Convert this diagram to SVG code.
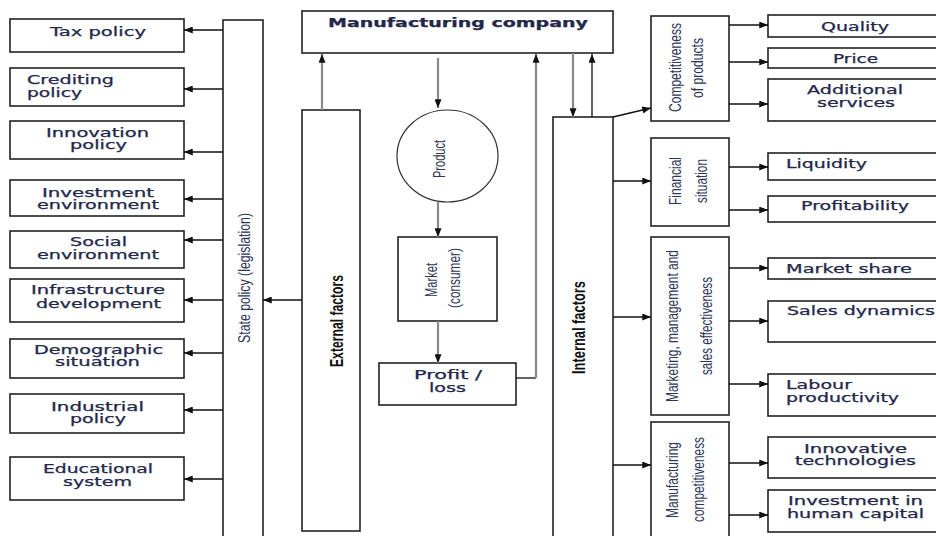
<svg xmlns="http://www.w3.org/2000/svg" width="936" height="536" viewBox="0 0 936 536">
<style>
.box{fill:#fff;stroke:#222;stroke-width:1.6}
.t{font-family:"DejaVu Sans",Verdana,sans-serif;font-size:11.5px;fill:#23284a;text-anchor:middle;stroke:#23284a;stroke-width:0.25}
.ts{text-anchor:start}
.b{font-weight:bold}
.r{font-family:"Liberation Sans",Arial,sans-serif;font-size:17px;fill:#2e3558;text-anchor:middle}
.rb{font-weight:bold;fill:#111;font-size:18px}
.c{fill:none;stroke:#111;stroke-width:1.3}
.g{fill:none;stroke:#8a8a8a;stroke-width:2.2}
</style>
<defs>
<marker id="ah" viewBox="0 0 10 8" refX="10" refY="4" markerWidth="10" markerHeight="7" markerUnits="userSpaceOnUse" orient="auto">
<path d="M0,0 L10,4 L0,8 z" fill="#111"/>
</marker>
</defs>
<rect width="936" height="536" fill="#fff"/>

<!-- left nodes -->
<g id="tax"><rect class="box" x="10" y="19" width="174" height="33"/><text class="t" x="98" y="36" textLength="96" lengthAdjust="spacingAndGlyphs">Tax policy</text></g>
<g id="crediting"><rect class="box" x="10" y="68" width="174" height="38"/><text class="t ts" x="27" y="84" textLength="87" lengthAdjust="spacingAndGlyphs">Crediting</text><text class="t ts" x="27" y="97" textLength="55" lengthAdjust="spacingAndGlyphs">policy</text></g>
<g id="innovation"><rect class="box" x="10" y="121" width="174" height="38"/><text class="t" x="97.5" y="137" textLength="103" lengthAdjust="spacingAndGlyphs">Innovation</text><text class="t" x="98.5" y="149" textLength="57" lengthAdjust="spacingAndGlyphs">policy</text></g>
<g id="investment-env"><rect class="box" x="10" y="180" width="174" height="36"/><text class="t" x="98" y="197" textLength="112" lengthAdjust="spacingAndGlyphs">Investment</text><text class="t" x="98" y="209" textLength="122" lengthAdjust="spacingAndGlyphs">environment</text></g>
<g id="social"><rect class="box" x="10" y="231" width="174" height="37"/><text class="t" x="98.5" y="246" textLength="57" lengthAdjust="spacingAndGlyphs">Social</text><text class="t" x="98" y="259" textLength="122" lengthAdjust="spacingAndGlyphs">environment</text></g>
<g id="infrastructure"><rect class="box" x="10" y="279" width="174" height="43"/><text class="t" x="98" y="294" textLength="134" lengthAdjust="spacingAndGlyphs">Infrastructure</text><text class="t" x="98.5" y="308" textLength="125" lengthAdjust="spacingAndGlyphs">development</text></g>
<g id="demographic"><rect class="box" x="10" y="339" width="174" height="39"/><text class="t" x="98.5" y="354" textLength="129" lengthAdjust="spacingAndGlyphs">Demographic</text><text class="t" x="97.5" y="366" textLength="85" lengthAdjust="spacingAndGlyphs">situation</text></g>
<g id="industrial"><rect class="box" x="10" y="394" width="174" height="39"/><text class="t" x="97.5" y="411" textLength="93" lengthAdjust="spacingAndGlyphs">Industrial</text><text class="t" x="98" y="423" textLength="56" lengthAdjust="spacingAndGlyphs">policy</text></g>
<g id="educational"><rect class="box" x="10" y="457" width="174" height="43"/><text class="t" x="98" y="473" textLength="110" lengthAdjust="spacingAndGlyphs">Educational</text><text class="t" x="97.5" y="486" textLength="69" lengthAdjust="spacingAndGlyphs">system</text></g>

<g id="state-policy"><rect class="box" x="223" y="20" width="40" height="530"/><text class="r" transform="translate(249.5,278) rotate(-90)" textLength="130" lengthAdjust="spacingAndGlyphs">State policy (legislation)</text></g>
<g id="external"><rect class="box" x="302" y="110" width="58" height="421"/><text class="r rb" transform="translate(343,321) rotate(-90)" textLength="92" lengthAdjust="spacingAndGlyphs">External factors</text></g>

<!-- middle -->
<g id="company"><rect class="box" x="302" y="11" width="311" height="42"/><text class="t b" x="458" y="27" textLength="260" lengthAdjust="spacingAndGlyphs">Manufacturing company</text></g>
<g id="product"><ellipse cx="447.5" cy="156" rx="50.5" ry="46" fill="#fff" stroke="#333" stroke-width="1.2"/><text class="r" transform="translate(445,159) rotate(-90)" textLength="38" lengthAdjust="spacingAndGlyphs">Product</text></g>
<g id="market"><rect class="box" x="398" y="237" width="99" height="84"/><text class="r" transform="translate(437,280) rotate(-90)" textLength="34" lengthAdjust="spacingAndGlyphs">Market</text><text class="r" transform="translate(460,278) rotate(-90)" textLength="60" lengthAdjust="spacingAndGlyphs">(consumer)</text></g>
<g id="profit"><rect class="box" x="379" y="363" width="137" height="42"/><text class="t" x="448" y="379" textLength="68" lengthAdjust="spacingAndGlyphs">Profit /</text><text class="t" x="447.5" y="392" textLength="37" lengthAdjust="spacingAndGlyphs">loss</text></g>

<g id="internal"><rect class="box" x="553" y="117" width="60" height="430"/><text class="r rb" transform="translate(585,327.5) rotate(-90)" textLength="93" lengthAdjust="spacingAndGlyphs">Internal factors</text></g>

<!-- internal categories -->
<g id="competitiveness"><rect class="box" x="651" y="16" width="78" height="105"/><text class="r" transform="translate(681,67.5) rotate(-90)" textLength="89" lengthAdjust="spacingAndGlyphs">Competitiveness</text><text class="r" transform="translate(703,68) rotate(-90)" textLength="60" lengthAdjust="spacingAndGlyphs">of products</text></g>
<g id="financial"><rect class="box" x="651" y="138" width="78" height="88"/><text class="r" transform="translate(681,181) rotate(-90)" textLength="48" lengthAdjust="spacingAndGlyphs">Financial</text><text class="r" transform="translate(707,181) rotate(-90)" textLength="44" lengthAdjust="spacingAndGlyphs">situation</text></g>
<g id="marketing"><rect class="box" x="651" y="237" width="78" height="178"/><text class="r" transform="translate(678,326) rotate(-90)" textLength="152" lengthAdjust="spacingAndGlyphs">Marketing, management and</text><text class="r" transform="translate(712,326) rotate(-90)" textLength="98" lengthAdjust="spacingAndGlyphs">sales effectiveness</text></g>
<g id="manufacturing-comp"><rect class="box" x="651" y="422" width="78" height="130"/><text class="r" transform="translate(678,480) rotate(-90)" textLength="76" lengthAdjust="spacingAndGlyphs">Manufacturing</text><text class="r" transform="translate(704,479.5) rotate(-90)" textLength="85" lengthAdjust="spacingAndGlyphs">competitiveness</text></g>

<!-- right nodes -->
<g id="quality"><rect class="box" x="768" y="15" width="180" height="22"/><text class="t" x="855" y="31" textLength="68" lengthAdjust="spacingAndGlyphs">Quality</text></g>
<g id="price"><rect class="box" x="768" y="48" width="180" height="20"/><text class="t" x="855.5" y="63" textLength="45" lengthAdjust="spacingAndGlyphs">Price</text></g>
<g id="additional"><rect class="box" x="768" y="79" width="180" height="42"/><text class="t" x="855" y="94" textLength="96" lengthAdjust="spacingAndGlyphs">Additional</text><text class="t" x="856" y="107" textLength="78" lengthAdjust="spacingAndGlyphs">services</text></g>
<g id="liquidity"><rect class="box" x="768" y="153" width="180" height="27"/><text class="t ts" x="786" y="168" textLength="81" lengthAdjust="spacingAndGlyphs">Liquidity</text></g>
<g id="profitability"><rect class="box" x="768" y="196" width="180" height="26"/><text class="t" x="855" y="210" textLength="108" lengthAdjust="spacingAndGlyphs">Profitability</text></g>
<g id="market-share"><rect class="box" x="768" y="258" width="180" height="21"/><text class="t ts" x="786" y="273" textLength="126" lengthAdjust="spacingAndGlyphs">Market share</text></g>
<g id="sales"><rect class="box" x="768" y="301" width="180" height="41"/><text class="t ts" x="787" y="315" textLength="148" lengthAdjust="spacingAndGlyphs">Sales dynamics</text></g>
<g id="labour"><rect class="box" x="768" y="374" width="180" height="42"/><text class="t ts" x="786" y="389" textLength="66" lengthAdjust="spacingAndGlyphs">Labour</text><text class="t ts" x="786" y="402" textLength="113" lengthAdjust="spacingAndGlyphs">productivity</text></g>
<g id="innovative"><rect class="box" x="768" y="437" width="180" height="41"/><text class="t" x="855.5" y="453" textLength="103" lengthAdjust="spacingAndGlyphs">Innovative</text><text class="t" x="855.5" y="465" textLength="121" lengthAdjust="spacingAndGlyphs">technologies</text></g>
<g id="human-capital"><rect class="box" x="768" y="490" width="180" height="42"/><text class="t" x="855.5" y="505" textLength="135" lengthAdjust="spacingAndGlyphs">Investment in</text><text class="t" x="855.5" y="518" textLength="137" lengthAdjust="spacingAndGlyphs">human capital</text></g>

<!-- connectors -->
<g id="connectors">
<path class="c" marker-end="url(#ah)" d="M223,30 H184"/>
<path class="c" marker-end="url(#ah)" d="M223,89 H184"/>
<path class="c" marker-end="url(#ah)" d="M223,152 H184"/>
<path class="c" marker-end="url(#ah)" d="M223,199 H184"/>
<path class="c" marker-end="url(#ah)" d="M223,240 H184"/>
<path class="c" marker-end="url(#ah)" d="M223,300 H184"/>
<path class="c" marker-end="url(#ah)" d="M223,353 H184"/>
<path class="c" marker-end="url(#ah)" d="M223,410 H184"/>
<path class="c" marker-end="url(#ah)" d="M223,479 H184"/>
<path class="c" marker-end="url(#ah)" d="M302,300 H263"/>
<path class="g" marker-end="url(#ah)" d="M322,110 V54"/>
<path class="g" marker-end="url(#ah)" d="M438,58 V108"/>
<path class="g" marker-end="url(#ah)" d="M438,202 V237"/>
<path class="g" marker-end="url(#ah)" d="M438,321 V363"/>
<path class="c" d="M516,378 H536"/>
<path class="g" marker-end="url(#ah)" d="M536,378 V54"/>
<path class="g" marker-end="url(#ah)" d="M573,53 V117"/>
<path class="c" stroke-width="1.8" marker-end="url(#ah)" d="M592,117 V54"/>
<path class="c" marker-end="url(#ah)" d="M613,117 L651,108"/>
<path class="c" marker-end="url(#ah)" d="M613,181 H651"/>
<path class="c" marker-end="url(#ah)" d="M613,317 H651"/>
<path class="c" marker-end="url(#ah)" d="M613,465 H651"/>
<path class="c" marker-end="url(#ah)" d="M729,25 H768"/>
<path class="c" marker-end="url(#ah)" d="M729,62 H768"/>
<path class="c" marker-end="url(#ah)" d="M729,104 H768"/>
<path class="c" marker-end="url(#ah)" d="M729,167 H768"/>
<path class="c" marker-end="url(#ah)" d="M729,210 H768"/>
<path class="c" marker-end="url(#ah)" d="M729,268 H768"/>
<path class="c" marker-end="url(#ah)" d="M729,321 H768"/>
<path class="c" marker-end="url(#ah)" d="M729,384 H768"/>
<path class="c" marker-end="url(#ah)" d="M729,463 H768"/>
<path class="c" marker-end="url(#ah)" d="M729,515 H768"/>
</g>
</svg>
